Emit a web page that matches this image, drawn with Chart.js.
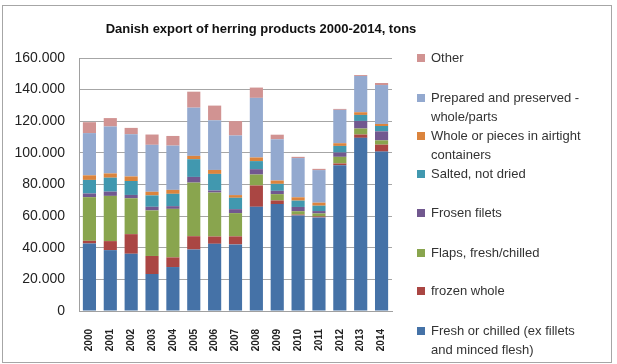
<!DOCTYPE html>
<html>
<head>
<meta charset="utf-8">
<script src="https://cdn.jsdelivr.net/npm/chart.js@4/dist/chart.umd.min.js"></script>
<style>
  body { margin: 0; background: #fff; font-family: 'Liberation Sans', Arial, sans-serif; }
  #wrap { position: relative; width: 617px; height: 364px; }
  #frame { position: absolute; left: 2px; top: 5px; width: 608px; height: 356px; border: 1px solid #a6a6a6; }
  #title { position: absolute; left: 0; width: 522px; top: 21px; text-align: center; font-weight: bold; font-size: 13px; color: #111; }
  .item { position: absolute; left: 417px; font-size: 13px; line-height: 19px; color: #333; }
  .item span.sw { position: absolute; left: 0; top: 6px; width: 8px; height: 8px; }
  .item span.tx { display: block; margin-left: 14px; }
  canvas { position: absolute; left: 0; top: 0; }
</style>
</head>
<body>
<div id="wrap">
  <canvas id="chart" width="617" height="364"></canvas>
  <div id="frame"></div>
  <div id="title">Danish export of herring products 2000-2014, tons</div>
  <div id="legend"></div>
</div>
<script>
// years on the x axis
const years = ['2000', '2001', '2002', '2003', '2004', '2005', '2006', '2007',
  '2008', '2009', '2010', '2011', '2012', '2013', '2014'];

// tons per product, stacked bottom to top
const fresh = [42700, 38500, 36200, 23400, 27800, 38900, 42500, 42100, 65900, 67600, 60400, 59200, 92200, 109500, 100800];
const frozenWhole = [1700, 5700, 12400, 11400, 6100, 8400, 4600, 5100, 13500, 2300, 600, 600, 1100, 2100, 4400];
const flaps = [27600, 28600, 22700, 28800, 30700, 33900, 27800, 14700, 6900, 4000, 2100, 1900, 4200, 3800, 2700];
const frozenFilets = [2300, 2700, 2100, 2300, 1700, 3600, 1300, 2500, 3400, 2100, 2700, 1500, 2700, 4800, 5700];
const salted = [8600, 8800, 8800, 7200, 7800, 11200, 10500, 7200, 5100, 4400, 4000, 3400, 4200, 3800, 3400];
const airtight = [2900, 2700, 2900, 2300, 2500, 2100, 2500, 1700, 2300, 2100, 2100, 1900, 1700, 1700, 1300];
const prepared = [26700, 29700, 26700, 29700, 28000, 30500, 31400, 37700, 37700, 26100, 24800, 20600, 21100, 22900, 24600];
const other = [6900, 5300, 4000, 6500, 6100, 10100, 9300, 9100, 6500, 2900, 800, 800, 600, 600, 1300];

const yTicks = [0, 20000, 40000, 60000, 80000, 100000, 120000, 140000, 160000];

const series = [
  { label: 'Fresh or chilled (ex fillets and minced flesh)', lines: ['Fresh or chilled (ex fillets', 'and minced flesh)'], data: fresh, color: '#4572A7', top: 321 },
  { label: 'frozen whole', lines: ['frozen whole'], data: frozenWhole, color: '#AA4643', top: 281 },
  { label: 'Flaps, fresh/chilled', lines: ['Flaps, fresh/chilled'], data: flaps, color: '#89A54E', top: 243 },
  { label: 'Frosen filets', lines: ['Frosen filets'], data: frozenFilets, color: '#71588F', top: 203 },
  { label: 'Salted, not dried', lines: ['Salted, not dried'], data: salted, color: '#4198AF', top: 164 },
  { label: 'Whole or pieces in airtight containers', lines: ['Whole or pieces in airtight', 'containers'], data: airtight, color: '#DB843D', top: 126 },
  { label: 'Prepared and preserved - whole/parts', lines: ['Prepared and preserved -', 'whole/parts'], data: prepared, color: '#93A9CF', top: 88 },
  { label: 'Other', lines: ['Other'], data: other, color: '#D19392', top: 48 },
];

// html legend
const legend = document.getElementById('legend');
series.forEach((s) => {
  const div = document.createElement('div');
  div.className = 'item';
  div.style.top = s.top + 'px';
  div.innerHTML = `<span class="sw" style="background:${s.color}"></span><span class="tx">${s.lines.join('<br>')}</span>`;
  legend.appendChild(div);
});

const fmt = (v) => v === 0 ? '0' : v.toLocaleString('en-US').replace(/,/g, '.');

new Chart(document.getElementById('chart'), {
  type: 'bar',
  data: {
    labels: years,
    datasets: series.map((s) => ({
      label: s.label,
      data: s.data,
      backgroundColor: s.color,
      borderWidth: 0,
      barPercentage: 0.63,
      categoryPercentage: 1,
    })),
  },
  options: {
    responsive: false,
    animation: false,
    layout: { padding: { left: 0, right: 225, top: 58, bottom: 0 } },
    plugins: {
      legend: { display: false },
      tooltip: { enabled: false },
    },
    scales: {
      x: {
        stacked: true,
        grid: { display: false },
        border: { color: '#a0a0a0' },
        ticks: {
          minRotation: 90,
          maxRotation: 90,
          padding: 10,
          color: '#222',
          font: { size: 10, weight: 'bold', family: "'Liberation Sans', Arial, sans-serif" },
        },
        afterFit: (scale) => { scale.height = 53; },
      },
      y: {
        stacked: true,
        min: 0,
        max: 160000,
        afterBuildTicks: (scale) => { scale.ticks = yTicks.map((v) => ({ value: v })); },
        grid: { color: '#a6a6a6', drawTicks: false },
        border: { color: '#a0a0a0' },
        ticks: {
          padding: 14,
          color: '#222',
          font: { size: 14, family: "'Liberation Sans', Arial, sans-serif" },
          callback: (v) => fmt(v),
        },
        afterFit: (scale) => { scale.width = 79; },
      },
    },
  },
});
</script>
</body>
</html>
